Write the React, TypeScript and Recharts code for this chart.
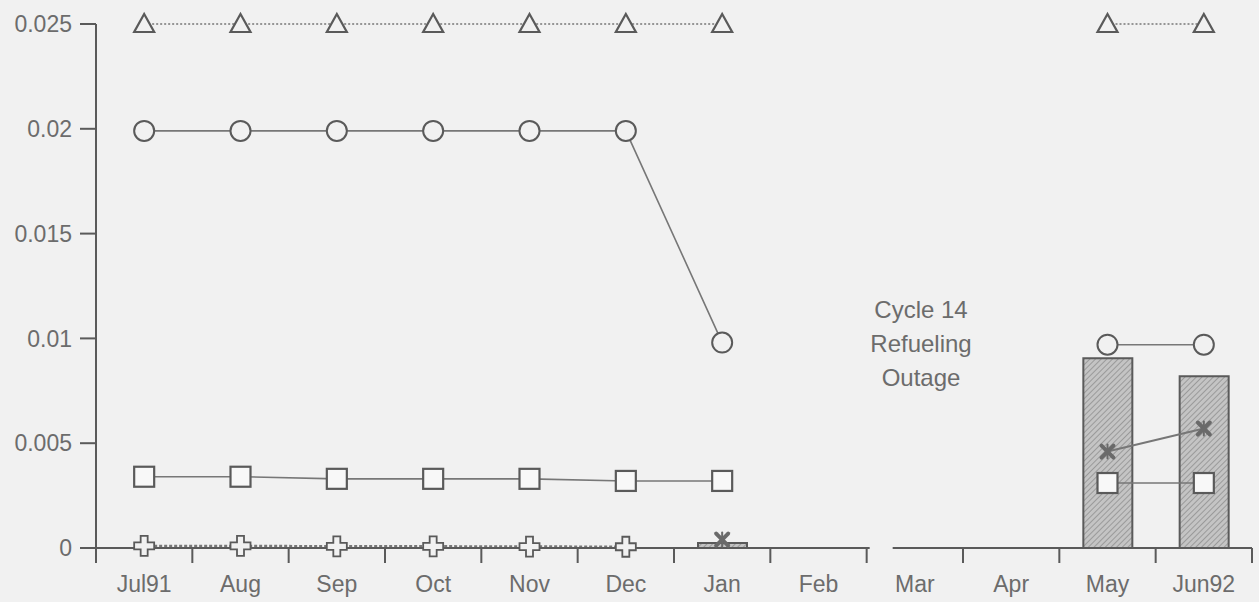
import { ComposedChart, Bar, Line, XAxis, YAxis } from 'recharts'

// ==================== Data ====================

const MONTHS = ['Jul91', 'Aug', 'Sep', 'Oct', 'Nov', 'Dec', 'Jan', 'Feb', 'Mar', 'Apr', 'May', 'Jun92']
const TRIANGLE = [0.025, 0.025, 0.025, 0.025, 0.025, 0.025, 0.025, null, null, null, 0.025, 0.025]
const CIRCLE = [0.0199, 0.0199, 0.0199, 0.0199, 0.0199, 0.0199, 0.0098, null, null, null, 0.0097, 0.0097]
const SQUARE = [0.0034, 0.0034, 0.0033, 0.0033, 0.0033, 0.0032, 0.0032, null, null, null, 0.0031, 0.0031]
const PLUS = [0.0001, 0.0001, 0.00008, 0.00008, 0.00007, 0.00006, null, null, null, null, null, null]
const XMARK = [null, null, null, null, null, null, 0.0004, null, null, null, 0.0046, 0.0057]
const BARS = [null, null, null, null, null, null, 0.00024, null, null, null, 0.00905, 0.0082]
const Y_TICKS = [0, 0.005, 0.01, 0.015, 0.02, 0.025]
const OUTAGE_LABEL = ['Cycle 14', 'Refueling', 'Outage']

const data = MONTHS.map((m, i) => ({
  month: m,
  tri: TRIANGLE[i],
  circ: CIRCLE[i],
  sq: SQUARE[i],
  plus: PLUS[i],
  xm: XMARK[i],
  bar: BARS[i],
}))

// ==================== Look ====================

const W = 1259
const H = 602
const LEFT = 96
const RIGHT = 7
const BAND = (W - LEFT - RIGHT) / MONTHS.length
const BG = '#f1f1f1'
const INK = '#5a5a5a'
const TEXT = '#6c6c6c'
const FONT = '"Liberation Sans", Arial, sans-serif'

// ==================== Markers ====================

function Tri(p: any) {
  if (p.cy == null || p.value == null) return <g key={p.key ?? `t${p.index}`} />
  const { cx, cy } = p
  return (
    <path key={`t${p.index}`} d={`M${cx},${cy - 10} L${cx + 10},${cy + 8} L${cx - 10},${cy + 8} Z`}
      fill={BG} stroke={INK} strokeWidth={2.2} strokeLinejoin="miter" />
  )
}

function Circ(p: any) {
  if (p.cy == null || p.value == null) return <g key={`c${p.index}`} />
  return <circle key={`c${p.index}`} cx={p.cx} cy={p.cy} r={10} fill={BG} stroke={INK} strokeWidth={2} />
}

function Sq(p: any) {
  if (p.cy == null || p.value == null) return <g key={`s${p.index}`} />
  return <rect key={`s${p.index}`} x={p.cx - 10} y={p.cy - 10} width={20} height={20} fill="#f8f8f8" stroke={INK} strokeWidth={2.2} />
}

function Plus(p: any) {
  if (p.cy == null || p.value == null) return <g key={`p${p.index}`} />
  const { cx, cy } = p
  const a = 3.5
  const b = 10
  const d = `M${cx - a},${cy - b} H${cx + a} V${cy - a} H${cx + b} V${cy + a} H${cx + a} V${cy + b} H${cx - a} V${cy + a} H${cx - b} V${cy - a} H${cx - a} Z`
  return <path key={`p${p.index}`} d={d} fill={BG} stroke={INK} strokeWidth={1.8} />
}

function XMark(p: any) {
  if (p.cy == null || p.value == null) return <g key={`x${p.index}`} />
  const { cx, cy } = p
  return (
    <g key={`x${p.index}`} stroke="#6a6a6a" strokeWidth={4} strokeLinecap="round">
      <line x1={cx - 6} y1={cy - 6} x2={cx + 6} y2={cy + 6} />
      <line x1={cx - 6} y1={cy + 6} x2={cx + 6} y2={cy - 6} />
      <line x1={cx} y1={cy - 7} x2={cx} y2={cy + 7} strokeWidth={2} />
    </g>
  )
}

// Month label plus the boundary tick to its right; the Feb tick also
// cuts the axis break between Feb and Mar.
function MonthTick({ x, y, payload, index }: any) {
  const edge = x + BAND / 2
  return (
    <g>
      {index === 0 && <line x1={x - BAND / 2} y1={y} x2={x - BAND / 2} y2={y + 15} stroke={INK} strokeWidth={2} />}
      {payload.value === 'Feb' && <rect x={edge + 3} y={y - 3} width={23} height={6} fill={BG} />}
      <line x1={edge} y1={y} x2={edge} y2={y + 15} stroke={INK} strokeWidth={2} />
      <text x={x} y={y + 44} textAnchor="middle" fill={TEXT} fontSize={23} fontFamily={FONT}>
        {payload.value}
      </text>
    </g>
  )
}

// ==================== Chart ====================

export default function App() {
  return (
    <div style={{ position: 'absolute', left: 0, top: 0, width: W, height: H, background: BG }}>
      <ComposedChart width={W} height={H} data={data} margin={{ top: 24, right: RIGHT, left: 0, bottom: 0 }}>
        <defs>
          <pattern id="hatch" width="4" height="4" patternUnits="userSpaceOnUse" patternTransform="rotate(45)">
            <rect width="4" height="4" fill="#c4c4c4" />
            <line x1="0" y1="0" x2="0" y2="4" stroke="#909090" strokeWidth="1.6" />
          </pattern>
        </defs>
        <XAxis
          dataKey="month"
          interval={0}
          tickLine={false}
          tickSize={0}
          tickMargin={0}
          height={54}
          axisLine={{ stroke: INK, strokeWidth: 2 }}
          tick={<MonthTick />}
        />
        <YAxis
          width={LEFT}
          domain={[0, 0.025]}
          ticks={Y_TICKS}
          tickFormatter={(v: number) => String(v)}
          axisLine={{ stroke: INK, strokeWidth: 2 }}
          tickLine={{ stroke: INK, strokeWidth: 2 }}
          tickSize={16}
          tickMargin={8}
          tick={{ fontSize: 23, fill: TEXT, fontFamily: FONT }}
        />
        <Bar dataKey="bar" barSize={49} fill="url(#hatch)" stroke={INK} strokeWidth={2} isAnimationActive={false} />
        <Line dataKey="plus" stroke="#777" strokeWidth={2.5} strokeDasharray="3 2" dot={Plus} activeDot={false} isAnimationActive={false} />
        <Line dataKey="sq" stroke="#777" strokeWidth={1.6} dot={Sq} activeDot={false} isAnimationActive={false} />
        <Line dataKey="xm" stroke="#777" strokeWidth={2} dot={XMark} activeDot={false} isAnimationActive={false} />
        <Line dataKey="circ" stroke="#777" strokeWidth={1.6} dot={Circ} activeDot={false} isAnimationActive={false} />
        <Line dataKey="tri" stroke="#777" strokeWidth={1.6} strokeDasharray="2 2" dot={Tri} activeDot={false} isAnimationActive={false} />
      </ComposedChart>
      <div
        style={{
          position: 'absolute', left: 821, top: 293, width: 200, textAlign: 'center',
          fontFamily: FONT, fontSize: 24, lineHeight: '34px', color: TEXT,
        }}
      >
        {OUTAGE_LABEL.map(t => <div key={t}>{t}</div>)}
      </div>
    </div>
  )
}
